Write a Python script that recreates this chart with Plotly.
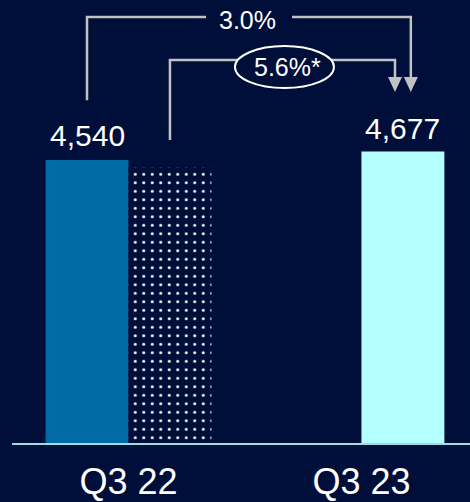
import plotly.graph_objects as go

# ---- data ----
categories = ["Q3 22", "Q3 23"]
reported = [4540, None]            # Q3 22 reported
comparable = [4429, 4677]          # Q3 22 at constant rates (dotted), Q3 23
value_labels = ["4,540", "4,677"]
growth_total = "3.0%"
growth_cc = "5.6%*"

NAVY = "#000E3A"
BLUE = "#006AA4"
CYAN = "#B4FFFF"
GRAY = "#C2C2C2"
AXIS = "#96E0E6"
FONT = "Liberation Sans, Arial, sans-serif"

BARGAP = 0.288
w = (1 - BARGAP) / 2
c1 = 0 - w / 2          # bar 1 centre
c2 = 0 + w / 2          # dotted bar centre
c3 = 1 + w / 2          # Q3 23 bar centre

fig = go.Figure()
fig.add_trace(go.Bar(
    x=categories, y=reported, offsetgroup="a",
    marker=dict(color=BLUE, line=dict(width=0)),
    hoverinfo="skip",
))
fig.add_trace(go.Bar(
    x=categories[:1], y=comparable[:1], offsetgroup="b",
    marker=dict(
        color=NAVY, line=dict(width=0),
        pattern=dict(shape=".", fgcolor="white", bgcolor=NAVY,
                     size=8.5, solidity=0.1, fillmode="replace"),
    ),
    hoverinfo="skip",
))
fig.add_trace(go.Bar(
    x=categories[1:], y=comparable[1:], offsetgroup="b",
    marker=dict(color=CYAN, line=dict(width=0)),
    hoverinfo="skip",
))

# ---- bracket geometry (data units) ----
dx = 0.034
tri = 0.030
tip = 5631
base = 5871
y_top1, y_bot1 = 6833, 5500
y_top2, y_bot2 = 6143, 4860
gapL, gapR = 0.333, 0.702

shapes = []
# 3.0% bracket
shapes.append(dict(type="path", xref="x", yref="y",
                   path=f"M {c1},{y_bot1} L {c1},{y_top1} L {gapL},{y_top1} "
                        f"M {gapR},{y_top1} L {c3+dx},{y_top1} L {c3+dx},{base}",
                   line=dict(color=GRAY, width=2.5)))
# 5.6% bracket
shapes.append(dict(type="path", xref="x", yref="y",
                   path=f"M {c2},{y_bot2} L {c2},{y_top2} L {c3-dx},{y_top2} L {c3-dx},{base}",
                   line=dict(color=GRAY, width=2.5)))
# arrow heads
for xx in (c3 - dx, c3 + dx):
    shapes.append(dict(type="path", xref="x", yref="y",
                       path=f"M {xx-tri},{base} L {xx+tri},{base} L {xx},{tip} Z",
                       fillcolor=GRAY, line=dict(width=0)))
# ellipse around 5.6%*
shapes.append(dict(type="circle", xref="x", yref="y",
                   x0=0.457, x1=0.882, y0=5694, y1=6368,
                   fillcolor=NAVY, line=dict(color="white", width=2)))

annotations = [
    dict(x=c1, y=4940, text=value_labels[0], showarrow=False,
         font=dict(size=30, color="white", family=FONT)),
    dict(x=c3, y=5053, text=value_labels[1], showarrow=False,
         font=dict(size=30, color="white", family=FONT)),
    dict(x=0.513, y=6785, text=growth_total, showarrow=False,
         font=dict(size=25, color="white", family=FONT)),
    dict(x=0.6845, y=6031, text=growth_cc, showarrow=False,
         font=dict(size=25, color="white", family=FONT)),
]

fig.update_layout(
    width=470, height=502,
    margin=dict(l=12, r=0, t=0, b=59),
    paper_bgcolor=NAVY, plot_bgcolor=NAVY,
    barmode="group", bargap=BARGAP, bargroupgap=0,
    showlegend=False,
    shapes=shapes, annotations=annotations,
    xaxis=dict(type="category", categoryarray=categories, categoryorder="array",
               range=[-0.5, 1.466], showgrid=False,
               showline=True, linecolor=AXIS, linewidth=2,
               ticks="outside", ticklen=6, tickcolor=NAVY,
               tickfont=dict(size=36, color="white", family=FONT),
               automargin=False, fixedrange=True),
    yaxis=dict(range=[0, 7107], visible=False, showgrid=False, zeroline=False,
               fixedrange=True),
)

fig.write_html("out.html")
